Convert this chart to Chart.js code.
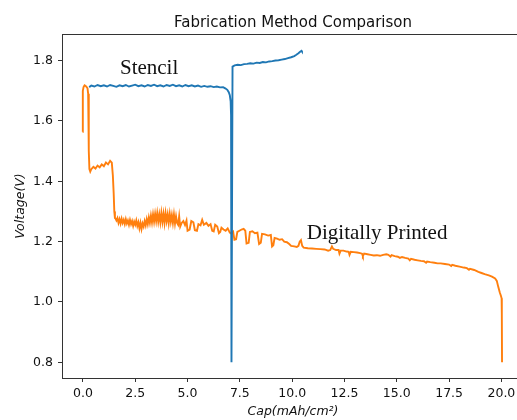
<!DOCTYPE html>
<html>
<head>
<meta charset="utf-8">
<script src="https://cdn.jsdelivr.net/npm/chart.js@4.4.1/dist/chart.umd.min.js"></script>
<style>
  html, body { margin: 0; padding: 0; overflow: hidden; background: #fff; }
  #wrap { width: 530px; height: 420px; }
</style>
</head>
<body>
<div id="wrap"><canvas id="c" width="530" height="420"></canvas></div>
<script>
// Stencil cell: capacity (mAh/cm²) and voltage (V)
const stencilCap = [
  0.30, 0.40, 0.55, 0.70, 0.85, 1.00, 1.15, 1.30, 1.45, 1.60, 1.75, 1.90, 2.05, 2.20, 2.35, 2.50,
  2.65, 2.80, 2.95, 3.10, 3.25, 3.40, 3.55, 3.70, 3.85, 4.00, 4.15, 4.30, 4.45, 4.60, 4.75, 4.90,
  5.05, 5.20, 5.35, 5.50, 5.65, 5.80, 5.95, 6.10, 6.25, 6.40, 6.55, 6.70, 6.80, 6.90, 6.97, 7.02,
  7.06, 7.08, 7.09, 7.10, 7.11, 7.15, 7.25, 7.40, 7.55, 7.70, 7.85, 8.00, 8.15, 8.30, 8.45, 8.60,
  8.75, 8.90, 9.05, 9.20, 9.35, 9.50, 9.65, 9.80, 9.95, 10.10, 10.20, 10.30, 10.38, 10.45, 10.47
];
const stencilVoltage = [
  1.712, 1.717, 1.714, 1.719, 1.715, 1.718, 1.714, 1.719, 1.716, 1.713, 1.718, 1.715, 1.719, 1.714, 1.717, 1.720,
  1.715, 1.718, 1.714, 1.719, 1.716, 1.720, 1.715, 1.718, 1.714, 1.719, 1.716, 1.720, 1.715, 1.718, 1.714, 1.719,
  1.715, 1.718, 1.714, 1.717, 1.713, 1.716, 1.713, 1.715, 1.712, 1.714, 1.711, 1.712, 1.708, 1.703, 1.695, 1.685,
  1.665, 1.620, 1.450, 1.050, 0.800, 1.780, 1.784, 1.786, 1.785, 1.788, 1.789, 1.791, 1.790, 1.793, 1.792, 1.795,
  1.794, 1.797, 1.798, 1.800, 1.801, 1.803, 1.805, 1.808, 1.811, 1.815, 1.819, 1.824, 1.829, 1.832, 1.830
];

// Digitally printed cell: capacity (mAh/cm²) and voltage (V)
const printedCap = [
  -0.02, -0.01, 0.00, 0.03, 0.08, 0.13, 0.18, 0.22, 0.25, 0.27, 0.29, 0.31, 0.35,
  0.40, 0.50, 0.60, 0.70, 0.80, 0.90, 1.00, 1.10, 1.20, 1.30, 1.38, 1.43, 1.47, 1.50, 1.53,
  1.56, 1.60, 1.65, 1.70, 1.75, 1.80, 1.85, 1.90, 1.95, 2.00, 2.05, 2.10, 2.15, 2.20, 2.25, 2.30,
  2.35, 2.40, 2.45, 2.50, 2.55, 2.60, 2.65, 2.70, 2.75, 2.80, 2.85, 2.90, 2.95, 3.00, 3.05, 3.10,
  3.15, 3.20, 3.25, 3.30, 3.35, 3.40, 3.45, 3.50, 3.55, 3.60, 3.65, 3.70, 3.75, 3.80, 3.85, 3.90,
  3.95, 4.00, 4.05, 4.10, 4.15, 4.20, 4.25, 4.30, 4.35, 4.40, 4.45, 4.50, 4.55, 4.60, 4.65, 4.72,
  4.80, 4.88, 4.95, 5.00, 5.10, 5.18, 5.28, 5.35, 5.45, 5.52, 5.62, 5.70, 5.78, 5.90, 6.00, 6.10,
  6.18, 6.25, 6.32, 6.42, 6.50, 6.56, 6.62, 6.72, 6.82, 6.92, 7.02, 7.10, 7.18, 7.24, 7.32, 7.38,
  7.48, 7.58, 7.68, 7.76, 7.82, 7.92, 7.98, 8.10, 8.22, 8.34, 8.42, 8.50, 8.56, 8.70, 8.85, 8.98,
  9.04, 9.10, 9.16, 9.28, 9.40, 9.52, 9.62, 9.75, 9.86, 9.95, 10.10, 10.22, 10.30, 10.36, 10.42, 10.48,
  10.55, 10.75, 10.95, 11.15, 11.35, 11.55, 11.72, 11.82, 11.90, 11.96, 12.10, 12.22, 12.26, 12.32, 12.45, 12.60,
  12.70, 12.74, 12.80, 12.95, 13.10, 13.25, 13.34, 13.38, 13.44, 13.60, 13.75, 13.90, 14.05, 14.20, 14.35, 14.50,
  14.60, 14.70, 14.75, 14.90, 15.05, 15.15, 15.25, 15.40, 15.55, 15.62, 15.68, 15.85, 16.00, 16.15, 16.30, 16.40,
  16.45, 16.60, 16.80, 16.95, 17.10, 17.30, 17.50, 17.60, 17.65, 17.80, 18.00, 18.20, 18.35, 18.45, 18.50, 18.70,
  18.90, 19.05, 19.20, 19.40, 19.55, 19.70, 19.78, 19.85, 19.92, 19.98, 20.01, 20.02, 20.03
];
const printedVoltage = [
  1.564, 1.650, 1.700, 1.712, 1.718, 1.716, 1.712, 1.708, 1.690, 1.600, 1.500, 1.440, 1.432,
  1.440, 1.448, 1.442, 1.452, 1.446, 1.456, 1.450, 1.462, 1.456, 1.468, 1.462, 1.420, 1.360, 1.300, 1.278,
  1.276, 1.270, 1.278, 1.262, 1.274, 1.260, 1.276, 1.262, 1.272, 1.258, 1.274, 1.260, 1.270, 1.256, 1.272, 1.258,
  1.268, 1.252, 1.266, 1.256, 1.270, 1.252, 1.264, 1.244, 1.262, 1.242, 1.260, 1.250, 1.268, 1.254, 1.274, 1.258,
  1.280, 1.262, 1.286, 1.264, 1.290, 1.266, 1.292, 1.268, 1.294, 1.266, 1.290, 1.264, 1.295, 1.266, 1.292, 1.262,
  1.294, 1.268, 1.290, 1.262, 1.292, 1.266, 1.288, 1.262, 1.290, 1.260, 1.284, 1.262, 1.256, 1.284, 1.250, 1.262,
  1.268, 1.255, 1.270, 1.236, 1.240, 1.268, 1.264, 1.238, 1.236, 1.258, 1.254, 1.272, 1.256, 1.262, 1.252, 1.258,
  1.236, 1.234, 1.256, 1.250, 1.228, 1.232, 1.246, 1.240, 1.236, 1.244, 1.230, 1.226, 1.232, 1.206, 1.208, 1.232,
  1.236, 1.240, 1.242, 1.236, 1.194, 1.196, 1.232, 1.234, 1.228, 1.230, 1.192, 1.196, 1.226, 1.224, 1.220, 1.222,
  1.184, 1.188, 1.212, 1.210, 1.206, 1.208, 1.200, 1.198, 1.192, 1.186, 1.184, 1.182, 1.186, 1.200, 1.205, 1.186,
  1.180, 1.178, 1.177, 1.176, 1.175, 1.174, 1.170, 1.172, 1.184, 1.176, 1.172, 1.172, 1.160, 1.170, 1.170, 1.167,
  1.166, 1.156, 1.166, 1.165, 1.164, 1.162, 1.160, 1.152, 1.160, 1.158, 1.156, 1.154, 1.155, 1.153, 1.156, 1.158,
  1.156, 1.150, 1.155, 1.152, 1.150, 1.146, 1.149, 1.146, 1.144, 1.138, 1.143, 1.140, 1.138, 1.136, 1.135, 1.130,
  1.134, 1.132, 1.130, 1.128, 1.128, 1.126, 1.124, 1.119, 1.123, 1.120, 1.117, 1.114, 1.112, 1.107, 1.110, 1.106,
  1.100, 1.096, 1.092, 1.088, 1.084, 1.078, 1.070, 1.050, 1.032, 1.020, 1.012, 0.960, 0.800
];

// Axis ticks
const capTicks = [0, 2.5, 5, 7.5, 10, 12.5, 15, 17.5, 20];
const voltageTicks = [0.8, 1.0, 1.2, 1.4, 1.6, 1.8];

const seriesNames = ['Stencil', 'Digitally Printed'];
const titleText = 'Fabrication Method Comparison';
const xTitle = 'Cap(mAh/cm²)';
const yTitle = 'Voltage(V)';

// Where the series names are written inside the plot (data units: cap, voltage at baseline)
const noteAnchors = [
  { text: seriesNames[0], cap: 1.77, volt: 1.755 },
  { text: seriesNames[1], cap: 10.70, volt: 1.210 }
];

const toPoints = (xs, ys) => xs.map((x, i) => ({ x: x, y: ys[i] }));

const AXIS_COLOR = '#333';
const TEXT_COLOR = '#111';

const decor = {
  id: 'decor',
  afterDraw(chart) {
    const { ctx, chartArea: a, scales } = chart;
    ctx.save();
    // top and right frame lines
    ctx.strokeStyle = AXIS_COLOR;
    ctx.lineWidth = 1;
    ctx.beginPath();
    ctx.moveTo(a.left, a.top + 0.5);
    ctx.lineTo(a.right, a.top + 0.5);
    ctx.lineTo(a.right, a.bottom);
    ctx.stroke();

    ctx.fillStyle = TEXT_COLOR;
    const cx = (a.left + a.right) / 2;
    // title
    ctx.font = '15px "DejaVu Sans"';
    ctx.textAlign = 'center';
    ctx.textBaseline = 'alphabetic';
    ctx.fillText(titleText, cx, 26.5);
    // x axis title
    ctx.font = 'italic 12.5px "DejaVu Sans"';
    ctx.fillText(xTitle, cx, 415);
    // y axis title
    ctx.save();
    ctx.translate(24, (a.top + a.bottom) / 2);
    ctx.rotate(-Math.PI / 2);
    ctx.fillText(yTitle, 0, 0);
    ctx.restore();

    // series names inside the plot
    ctx.font = '21px "Liberation Serif"';
    ctx.textAlign = 'left';
    ctx.fillStyle = '#111';
    noteAnchors.forEach(n => {
      ctx.fillText(n.text, scales.x.getPixelForValue(n.cap), scales.y.getPixelForValue(n.volt));
    });
    ctx.restore();
  }
};

new Chart(document.getElementById('c').getContext('2d'), {
  type: 'line',
  data: {
    datasets: [
      {
        label: seriesNames[0],
        data: toPoints(stencilCap, stencilVoltage),
        borderColor: '#1f77b4',
        borderWidth: 1.9,
        pointRadius: 0,
        fill: false,
        tension: 0
      },
      {
        label: seriesNames[1],
        data: toPoints(printedCap, printedVoltage),
        borderColor: '#ff7f0e',
        borderWidth: 1.9,
        pointRadius: 0,
        fill: false,
        tension: 0
      }
    ]
  },
  options: {
    responsive: false,
    animation: false,
    events: [],
    layout: { padding: { top: 34, right: 6, left: 0, bottom: 0 } },
    plugins: {
      legend: { display: false },
      tooltip: { enabled: false },
      title: { display: false }
    },
    scales: {
      x: {
        type: 'linear',
        min: -1.0,
        max: 21.08,
        afterBuildTicks: s => { s.ticks = capTicks.map(v => ({ value: v })); },
        afterFit: s => { s.height = 42; },
        ticks: {
          callback: v => Number(v).toFixed(1),
          color: TEXT_COLOR,
          font: { family: 'DejaVu Sans', size: 12.5 },
          padding: 4,
          maxRotation: 0,
          autoSkip: false
        },
        grid: { drawOnChartArea: false, tickLength: 4, color: AXIS_COLOR, tickWidth: 1 },
        border: { color: AXIS_COLOR, width: 1 }
      },
      y: {
        type: 'linear',
        min: 0.748,
        max: 1.888,
        afterBuildTicks: s => { s.ticks = voltageTicks.map(v => ({ value: v })); },
        afterFit: s => { s.width = 62; },
        ticks: {
          callback: v => Number(v).toFixed(1),
          color: TEXT_COLOR,
          font: { family: 'DejaVu Sans', size: 12.5 },
          padding: 5,
          autoSkip: false
        },
        grid: { drawOnChartArea: false, tickLength: 4, color: AXIS_COLOR, tickWidth: 1 },
        border: { color: AXIS_COLOR, width: 1 }
      }
    }
  },
  plugins: [decor]
});
</script>
</body>
</html>
